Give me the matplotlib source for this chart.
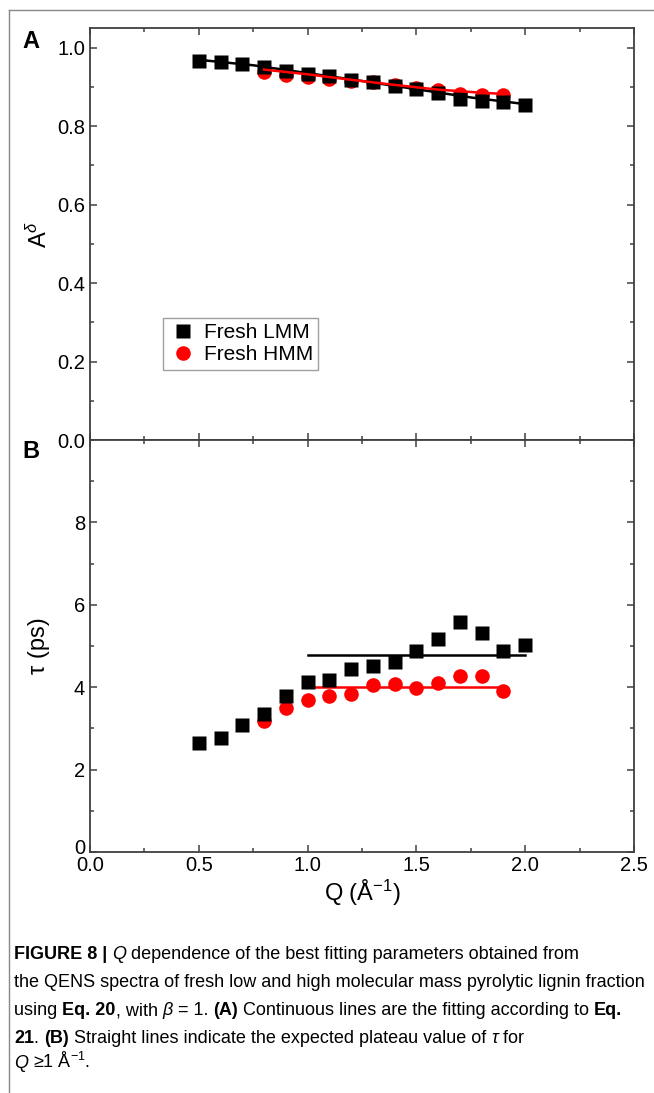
#! /usr/bin/env python3

import matplotlib
matplotlib.use('Agg')
import matplotlib.pyplot as plt
from matplotlib import font_manager
from matplotlib import transforms
from matplotlib.lines import Line2D
from matplotlib.ticker import MultipleLocator, FormatStrFormatter

# data
q_lmm = [0.5, 0.6, 0.7, 0.8, 0.9, 1.0, 1.1, 1.2, 1.3, 1.4, 1.5, 1.6, 1.7, 1.8, 1.9, 2.0]
a_lmm = [0.967, 0.963, 0.958, 0.950, 0.940, 0.933, 0.928, 0.918, 0.912, 0.901,
         0.895, 0.884, 0.869, 0.863, 0.861, 0.855]
q_hmm = [0.8, 0.9, 1.0, 1.1, 1.2, 1.3, 1.4, 1.5, 1.6, 1.7, 1.8, 1.9]
a_hmm = [0.937, 0.929, 0.926, 0.920, 0.916, 0.912, 0.904, 0.896, 0.891, 0.882, 0.880, 0.880]

# fitted curves (Eq. 21)
fit_lmm_q = [0.5, 0.75, 1.0, 1.25, 1.5, 1.75, 2.0]
fit_lmm_a = [0.969, 0.955, 0.935, 0.915, 0.894, 0.873, 0.856]
fit_hmm_q = [0.8, 1.0, 1.2, 1.4, 1.6, 1.8, 1.9]
fit_hmm_a = [0.944, 0.932, 0.918, 0.905, 0.893, 0.885, 0.882]

tau_lmm = [2.65, 2.77, 3.08, 3.34, 3.79, 4.13, 4.17, 4.44, 4.52, 4.60,
           4.87, 5.17, 5.59, 5.32, 4.87, 5.03]
tau_hmm = [3.18, 3.49, 3.69, 3.79, 3.83, 4.05, 4.07, 3.98, 4.10, 4.28, 4.28, 3.90]

# plateau values for Q >= 1
plateau_lmm_q = [1.0, 2.0]
plateau_lmm = 4.79
plateau_hmm_q = [1.0, 1.9]
plateau_hmm = 4.01

labels = ['Fresh LMM', 'Fresh HMM']

installed = set(f.name for f in font_manager.fontManager.ttflist)
FONT = 'Liberation Sans' if 'Liberation Sans' in installed else 'DejaVu Sans'
NARROW = 'Liberation Sans Narrow' if 'Liberation Sans Narrow' in installed else FONT

plt.rcParams['font.family'] = [FONT, 'DejaVu Sans']
plt.rcParams['mathtext.fontset'] = 'custom'
plt.rcParams['mathtext.rm'] = FONT
plt.rcParams['mathtext.it'] = FONT + ':italic'
plt.rcParams['mathtext.bf'] = FONT + ':bold'

SPINE = '#404040'

fig = plt.figure(figsize=(6.54, 10.93), dpi=100)
W, H = 654.0, 1093.0

def px_axes(x0, y0, x1, y1):
    return fig.add_axes([x0 / W, 1 - y1 / H, (x1 - x0) / W, (y1 - y0) / H])

ax1 = px_axes(90, 28, 634, 440)
ax2 = px_axes(90, 440, 634, 852)

def style(ax):
    for s in ax.spines.values():
        s.set_color(SPINE)
        s.set_linewidth(1.3)
    ax.tick_params(which='both', direction='in', top=True, right=True,
                   color=SPINE, width=1.1, labelsize=14.5)
    ax.tick_params(which='major', length=5)
    ax.tick_params(which='minor', length=3)
    ax.set_xlim(0, 2.5)
    ax.xaxis.set_major_locator(MultipleLocator(0.5))
    ax.xaxis.set_minor_locator(MultipleLocator(0.25))

style(ax1)
style(ax2)

# panel A
ax1.plot(q_hmm, a_hmm, 'o', color='#ff0000', ms=10.5, mec='none', zorder=2,
         label=labels[1])
ax1.plot(q_lmm, a_lmm, 's', color='black', ms=10.5, mec='none', zorder=3,
         label=labels[0])
ax1.plot(fit_lmm_q, fit_lmm_a, '-', color='black', lw=1.8, zorder=4)
ax1.plot(fit_hmm_q, fit_hmm_a, '-', color='#ff0000', lw=1.8, zorder=5)
ax1.set_ylim(0, 1.05)
ax1.yaxis.set_major_locator(MultipleLocator(0.2))
ax1.yaxis.set_minor_locator(MultipleLocator(0.1))
ax1.yaxis.set_major_formatter(FormatStrFormatter('%.1f'))
ax1.tick_params(axis='x', labelbottom=False)
ax1.set_ylabel(r'A$^{\delta}$', fontsize=17)
ax1.yaxis.set_label_coords(-38 / 544, 0.5)

handles, labs = ax1.get_legend_handles_labels()
leg = ax1.legend(handles[::-1], labs[::-1], loc='upper left',
                 bbox_to_anchor=(73 / 544, 1 - 290 / 412), fontsize=15,
                 frameon=True, fancybox=False, edgecolor='#888888',
                 handletextpad=0.3, handlelength=1.4, borderpad=0.25,
                 labelspacing=0.15, borderaxespad=0)
leg.get_frame().set_linewidth(1.0)

# panel B
ax2.plot(q_hmm, tau_hmm, 'o', color='#ff0000', ms=10.5, mec='none', zorder=2)
ax2.plot(q_lmm, tau_lmm, 's', color='black', ms=10.5, mec='none', zorder=3)
ax2.plot(plateau_lmm_q, [plateau_lmm] * 2, '-', color='black', lw=1.8, zorder=1)
ax2.plot(plateau_hmm_q, [plateau_hmm] * 2, '-', color='#ff0000', lw=1.8, zorder=1)
ax2.set_ylim(0, 10)
ax2.set_yticks([0, 2, 4, 6, 8])
ax2.yaxis.set_minor_locator(MultipleLocator(1))
ax2.xaxis.set_major_formatter(FormatStrFormatter('%.1f'))
ax2.tick_params(axis='x', pad=3)
ax2.set_ylabel('τ (ps)', fontsize=17)
ax2.yaxis.set_label_coords(-40 / 544, 0.5)
ax2.set_xlabel(r'Q (Å$^{-1}$)', fontsize=17)
ax2.xaxis.set_label_coords(0.5, -26 / 412)

# lift the "0" y label a little, as in the original
fig.canvas.draw()
ylab0 = ax2.get_yticklabels()[0]
ylab0.set_transform(ylab0.get_transform() +
                    transforms.ScaledTranslation(0, 5 / 100, fig.dpi_scale_trans))

# panel letters
fig.text(22 / W, 1 - 42 / H, 'A', fontsize=17, fontweight='bold', va='center')
fig.text(22 / W, 1 - 452 / H, 'B', fontsize=17, fontweight='bold', va='center')

# page frame (left and top rules)
fig.add_artist(Line2D([9 / W, 9 / W], [0, 1 - 10 / H], color='#888888', lw=1.0))
fig.add_artist(Line2D([9 / W, 1], [1 - 10 / H, 1 - 10 / H], color='#888888', lw=1.0))

# caption, drawn piece by piece
caption = [
    [('FIGURE 8 | ', 'bold', 'normal'), ('Q', 'normal', 'italic'),
     (' dependence of the best fitting parameters obtained from', 'normal', 'normal')],
    [('the QENS spectra of fresh low and high molecular mass pyrolytic lignin fraction',
      'normal', 'normal')],
    [('using ', 'normal', 'normal'), ('Eq. 20', 'bold', 'normal'),
     (', with ', 'normal', 'normal'), ('β', 'normal', 'italic'),
     (' = 1. ', 'normal', 'normal'), ('(A)', 'bold', 'normal'),
     (' Continuous lines are the fitting according to ', 'normal', 'normal'),
     ('Eq.', 'bold', 'normal')],
    [('21', 'bold', 'normal'), ('. ', 'normal', 'normal'), ('(B)', 'bold', 'normal'),
     (' Straight lines indicate the expected plateau value of ', 'normal', 'normal'),
     ('τ', 'normal', 'italic'), (' for', 'normal', 'normal')],
    [('Q', 'normal', 'italic'), (' ≥1 Å$^{−1}$.', 'normal', 'normal')],
]
caption_y = [959, 987, 1015, 1043, 1068]
cap_size = 13

renderer = fig.canvas.get_renderer()
for line, ypx in zip(caption, caption_y):
    x = 14 / W
    for txt, weight, style_ in line:
        t = fig.text(x, 1 - ypx / H, txt, fontsize=cap_size, fontweight=weight,
                     fontstyle=style_, family=[NARROW, FONT, 'DejaVu Sans'],
                     va='baseline', ha='left')
        bb = t.get_window_extent(renderer)
        x += bb.width / W

fig.savefig('out.png', dpi=100)
